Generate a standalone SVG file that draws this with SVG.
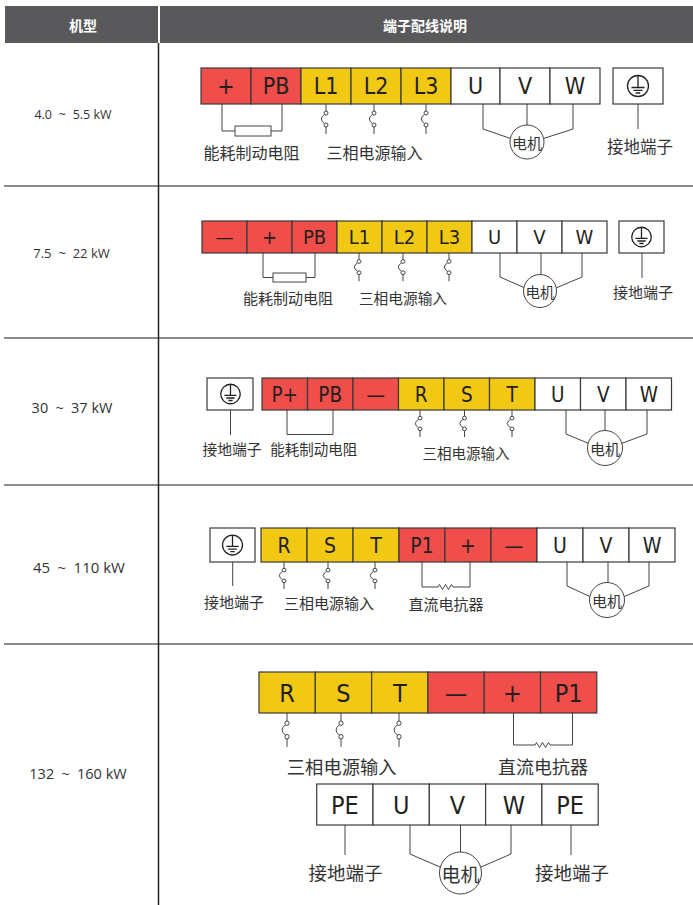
<svg xmlns="http://www.w3.org/2000/svg" xmlns:xlink="http://www.w3.org/1999/xlink" width="693" height="905" viewBox="0 0 693 905">
<style>
.hd{font-family:"Noto Sans CJK SC",sans-serif;font-weight:700;font-size:14px;fill:#fff;text-anchor:middle;dominant-baseline:central}
.kw{font-family:"Open Sans","Noto Sans",sans-serif;fill:#333;text-anchor:middle;dominant-baseline:central;word-spacing:3.5px}
.kw tspan{word-spacing:0}
.t{font-family:"DejaVu Sans Condensed","DejaVu Sans",sans-serif;font-stretch:semi-condensed;fill:#231f20;text-anchor:middle}
.cn{font-family:"Noto Sans CJK SC",sans-serif;fill:#333;text-anchor:middle;dominant-baseline:central}
.r{fill:#ef4e4b;stroke:#3a3a3a;stroke-width:1.2}
.y{fill:#f1c813;stroke:#3a3a3a;stroke-width:1.2}
.w{fill:#fff;stroke:#3a3a3a;stroke-width:1.2}
.ln{fill:none;stroke:#444;stroke-width:1}
.sep{stroke:#666;stroke-width:1.5}
.mc{fill:#fff;stroke:#444;stroke-width:1}
.ns{vector-effect:non-scaling-stroke}
</style>
<defs>
<g id="sw" class="ln">
<path class="ns" d="M0,0V7M0,23V30M-1.4,10.4Q-8,15 -1.4,19.6"/>
<circle class="ns" cx="0" cy="9" r="2" fill="#fff"/>
<circle class="ns" cx="0" cy="21" r="2" fill="#fff"/>
</g>
<g id="gnd" fill="none" stroke="#222" stroke-width="1.3">
<circle class="ns" cx="0" cy="0" r="10.5"/>
<path class="ns" d="M0,-10.5V1.5M-6.5,1.5H6.5M-4.5,4.3H4.5M-2.3,7H2.3"/>
</g>
</defs>

<g id="header">
<rect x="5" y="6" width="153" height="37" fill="#59595b"/>
<rect x="160" y="6" width="533" height="37" fill="#59595b"/>
<text class="hd" x="83" y="24.5">机型</text>
<text class="hd" x="425" y="24.5">端子配线说明</text>
</g>

<g id="grid">
<line class="sep" x1="4" y1="186" x2="693" y2="186"/>
<line class="sep" x1="4" y1="338" x2="693" y2="338"/>
<line class="sep" x1="4" y1="485" x2="693" y2="485"/>
<line class="sep" x1="4" y1="644" x2="693" y2="644"/>
<line x1="158.5" y1="43" x2="158.5" y2="905" stroke="#222" stroke-width="1.5"/>
</g>

<g id="models">
<text class="kw" x="73" y="114" font-size="12.5">4.0 ~ 5.5<tspan> kW</tspan></text>
<text class="kw" x="71.5" y="253" font-size="13">7.5 ~ 22<tspan> kW</tspan></text>
<text class="kw" x="72" y="407" font-size="14.5">30 ~ 37<tspan> kW</tspan></text>
<text class="kw" x="79" y="567" font-size="15">45 ~ 110<tspan> kW</tspan></text>
<text class="kw" x="78" y="773" font-size="14.5">132 ~ 160<tspan> kW</tspan></text>
</g>

<!-- Row 1 -->
<g id="row1-connectors">
<path class="ln" d="M222,104V131H235M271,131H282V104"/>
<rect x="235" y="126" width="36" height="10" fill="#fff" stroke="#444"/>
<use xlink:href="#sw" transform="translate(326,104)"/>
<use xlink:href="#sw" transform="translate(374,104)"/>
<use xlink:href="#sw" transform="translate(426,104)"/>
<path class="ln" d="M483,104V129L512,139M527,104V126M573,104V129L542,139M638,104V129"/>
</g>
<g id="row1-terminals" font-size="23">
<rect class="r" x="201" y="68" width="50" height="36"/><text class="t" x="226" y="94.4">+</text>
<rect class="r" x="251" y="68" width="50" height="36"/><text class="t" x="276" y="94.4">PB</text>
<rect class="y" x="301" y="68" width="50" height="36"/><text class="t" x="326" y="94.4">L1</text>
<rect class="y" x="351" y="68" width="50" height="36"/><text class="t" x="376" y="94.4">L2</text>
<rect class="y" x="401" y="68" width="50" height="36"/><text class="t" x="426" y="94.4">L3</text>
<rect class="w" x="451" y="68" width="49" height="36"/><text class="t" x="475.5" y="94.4">U</text>
<rect class="w" x="500" y="68" width="50" height="36"/><text class="t" x="525" y="94.4">V</text>
<rect class="w" x="550" y="68" width="50" height="36"/><text class="t" x="575" y="94.4">W</text>
</g>
<g id="row1-ground">
<rect class="w" x="613" y="68" width="50" height="36"/>
<use xlink:href="#gnd" transform="translate(638,86)"/>
</g>
<g id="row1-motor">
<circle class="mc" cx="527" cy="142" r="17"/>
<text class="cn" x="527" y="142" font-size="15">电机</text>
</g>
<g id="row1-labels">
<text class="cn" x="251.5" y="152" font-size="16">能耗制动电阻</text>
<text class="cn" x="374.5" y="152" font-size="16">三相电源输入</text>
<text class="cn" x="640" y="146" font-size="16.5">接地端子</text>
</g>

<!-- Row 2 -->
<g id="row2-connectors">
<path class="ln" d="M263,253V277.5H273M306,277.5H315V253"/>
<rect x="273" y="273" width="33" height="9" fill="#fff" stroke="#444"/>
<use xlink:href="#sw" transform="translate(359,253) scale(1,0.94)"/>
<use xlink:href="#sw" transform="translate(403,253) scale(1,0.94)"/>
<use xlink:href="#sw" transform="translate(449,253) scale(1,0.94)"/>
<path class="ln" d="M500,253V277L525,288M541,253V275M582,253V277L556,288M642,253V278"/>
</g>
<g id="row2-terminals" font-size="20">
<rect class="r" x="202" y="221" width="45" height="32"/><text class="t" x="224.5" y="244.3">—</text>
<rect class="r" x="247" y="221" width="45" height="32"/><text class="t" x="269.5" y="244.3">+</text>
<rect class="r" x="292" y="221" width="45" height="32"/><text class="t" x="314.5" y="244.3">PB</text>
<rect class="y" x="337" y="221" width="45" height="32"/><text class="t" x="359.5" y="244.3">L1</text>
<rect class="y" x="382" y="221" width="45" height="32"/><text class="t" x="404.5" y="244.3">L2</text>
<rect class="y" x="427" y="221" width="45" height="32"/><text class="t" x="449.5" y="244.3">L3</text>
<rect class="w" x="472" y="221" width="45" height="32"/><text class="t" x="494.5" y="244.3">U</text>
<rect class="w" x="517" y="221" width="45" height="32"/><text class="t" x="539.5" y="244.3">V</text>
<rect class="w" x="562" y="221" width="45" height="32"/><text class="t" x="584.5" y="244.3">W</text>
</g>
<g id="row2-ground">
<rect class="w" x="619" y="221" width="45" height="32"/>
<use xlink:href="#gnd" transform="translate(641.5,237) scale(0.93)"/>
</g>
<g id="row2-motor">
<circle class="mc" cx="540" cy="291" r="16.5"/>
<text class="cn" x="540" y="291" font-size="14.5">电机</text>
</g>
<g id="row2-labels">
<text class="cn" x="288" y="297" font-size="15">能耗制动电阻</text>
<text class="cn" x="403" y="297" font-size="14.7">三相电源输入</text>
<text class="cn" x="643" y="291" font-size="15">接地端子</text>
</g>

<!-- Row 3 -->
<g id="row3-connectors">
<path class="ln" d="M287,410V434.5H333V410M230.5,410V435"/>
<use xlink:href="#sw" transform="translate(420,410) scale(1,0.9)"/>
<use xlink:href="#sw" transform="translate(464.5,410) scale(1,0.9)"/>
<use xlink:href="#sw" transform="translate(512,410) scale(1,0.9)"/>
<path class="ln" d="M566,410V434L590,444M605,410V431M647,410V434L620,444"/>
</g>
<g id="row3-ground">
<rect class="w" x="207" y="378" width="46" height="32"/>
<use xlink:href="#gnd" transform="translate(230.5,394) scale(0.93)"/>
</g>
<g id="row3-terminals" font-size="20.5">
<rect class="r" x="262" y="378" width="45.5" height="32"/><text class="t" x="284.75" y="401.5">P+</text>
<rect class="r" x="307.5" y="378" width="45.5" height="32"/><text class="t" x="330.25" y="401.5">PB</text>
<rect class="r" x="353" y="378" width="45.5" height="32"/><text class="t" x="375.75" y="401.5">—</text>
<rect class="y" x="398.5" y="378" width="45.5" height="32"/><text class="t" x="421.25" y="401.5">R</text>
<rect class="y" x="444" y="378" width="45.5" height="32"/><text class="t" x="466.75" y="401.5">S</text>
<rect class="y" x="489.5" y="378" width="45.5" height="32"/><text class="t" x="512.25" y="401.5">T</text>
<rect class="w" x="535" y="378" width="45.5" height="32"/><text class="t" x="557.75" y="401.5">U</text>
<rect class="w" x="580.5" y="378" width="45.5" height="32"/><text class="t" x="603.25" y="401.5">V</text>
<rect class="w" x="626" y="378" width="45.5" height="32"/><text class="t" x="648.75" y="401.5">W</text>
</g>
<g id="row3-motor">
<circle class="mc" cx="605" cy="448" r="17.5"/>
<text class="cn" x="605" y="448" font-size="15">电机</text>
</g>
<g id="row3-labels">
<text class="cn" x="232" y="448" font-size="14.8">接地端子</text>
<text class="cn" x="313.7" y="448" font-size="14.5">能耗制动电阻</text>
<text class="cn" x="466" y="452" font-size="14.5">三相电源输入</text>
</g>

<!-- Row 4 -->
<g id="row4-connectors">
<path class="ln" d="M232.7,562V586"/>
<use xlink:href="#sw" transform="translate(284,562) scale(1,0.9)"/>
<use xlink:href="#sw" transform="translate(328,562) scale(1,0.9)"/>
<use xlink:href="#sw" transform="translate(375,562) scale(1,0.9)"/>
<path class="ln" d="M422,562V587H438l1.5,-2.5l3,5l3,-5l3,5l3,-5l1.5,2.5H470V562"/>
<path class="ln" d="M567,562V586L591,597M608,562V583M649,562V586L623,597"/>
</g>
<g id="row4-ground">
<rect class="w" x="210" y="528" width="45" height="34"/>
<use xlink:href="#gnd" transform="translate(232.5,545) scale(0.95)"/>
</g>
<g id="row4-terminals" font-size="21">
<rect class="y" x="261" y="528" width="46" height="34"/><text class="t" x="284" y="552.7">R</text>
<rect class="y" x="307" y="528" width="46" height="34"/><text class="t" x="330" y="552.7">S</text>
<rect class="y" x="353" y="528" width="46" height="34"/><text class="t" x="376" y="552.7">T</text>
<rect class="r" x="399" y="528" width="46" height="34"/><text class="t" x="422" y="552.7">P1</text>
<rect class="r" x="445" y="528" width="46" height="34"/><text class="t" x="468" y="552.7">+</text>
<rect class="r" x="491" y="528" width="46" height="34"/><text class="t" x="514" y="552.7">—</text>
<rect class="w" x="537" y="528" width="46" height="34"/><text class="t" x="560" y="552.7">U</text>
<rect class="w" x="583" y="528" width="46" height="34"/><text class="t" x="606" y="552.7">V</text>
<rect class="w" x="629" y="528" width="46" height="34"/><text class="t" x="652" y="552.7">W</text>
</g>
<g id="row4-motor">
<circle class="mc" cx="607" cy="600" r="17.5"/>
<text class="cn" x="607" y="600" font-size="15">电机</text>
</g>
<g id="row4-labels">
<text class="cn" x="234" y="601" font-size="15">接地端子</text>
<text class="cn" x="329" y="602" font-size="15">三相电源输入</text>
<text class="cn" x="446" y="603" font-size="15">直流电抗器</text>
</g>

<!-- Row 5 -->
<g id="row5-connectors">
<use xlink:href="#sw" transform="translate(287,713) scale(1.05,1.13)"/>
<use xlink:href="#sw" transform="translate(341,713) scale(1.05,1.13)"/>
<use xlink:href="#sw" transform="translate(399,713) scale(1.05,1.13)"/>
<path class="ln" d="M513.5,713V745H535l1.5,-2.5l3,5l3,-5l3,5l3,-5l1.5,2.5H572.5V713"/>
<path class="ln" d="M345,825V855M571,825V855"/>
<path class="ln" d="M410,825V854L440,867M460.5,825V852M511,825V854L481,867"/>
</g>
<g id="row5-terminals" font-size="25">
<rect class="y" x="259" y="672" width="56.3" height="41"/><text class="t" x="287.15" y="701.6">R</text>
<rect class="y" x="315.3" y="672" width="56.3" height="41"/><text class="t" x="343.45" y="701.6">S</text>
<rect class="y" x="371.6" y="672" width="56.3" height="41"/><text class="t" x="399.75" y="701.6">T</text>
<rect class="r" x="427.9" y="672" width="56.3" height="41"/><text class="t" x="456.05" y="701.6">—</text>
<rect class="r" x="484.2" y="672" width="56.3" height="41"/><text class="t" x="512.35" y="701.6">+</text>
<rect class="r" x="540.5" y="672" width="56.3" height="41"/><text class="t" x="568.65" y="701.6">P1</text>
</g>
<g id="row5-output" font-size="25">
<rect class="w" x="316.7" y="784" width="56.3" height="41"/><text class="t" x="344.85" y="813.6">PE</text>
<rect class="w" x="373" y="784" width="56.3" height="41"/><text class="t" x="401.15" y="813.6">U</text>
<rect class="w" x="429.3" y="784" width="56.3" height="41"/><text class="t" x="457.45" y="813.6">V</text>
<rect class="w" x="485.6" y="784" width="56.3" height="41"/><text class="t" x="513.75" y="813.6">W</text>
<rect class="w" x="541.9" y="784" width="56.3" height="41"/><text class="t" x="570.05" y="813.6">PE</text>
</g>
<g id="row5-motor">
<circle class="mc" cx="460.5" cy="873" r="21"/>
<text class="cn" x="460.5" y="873" font-size="19">电机</text>
</g>
<g id="row5-labels">
<text class="cn" x="341.7" y="766" font-size="18.3">三相电源输入</text>
<text class="cn" x="543" y="766" font-size="18">直流电抗器</text>
<text class="cn" x="345.5" y="872" font-size="18.5">接地端子</text>
<text class="cn" x="572" y="872" font-size="18.5">接地端子</text>
</g>
</svg>
